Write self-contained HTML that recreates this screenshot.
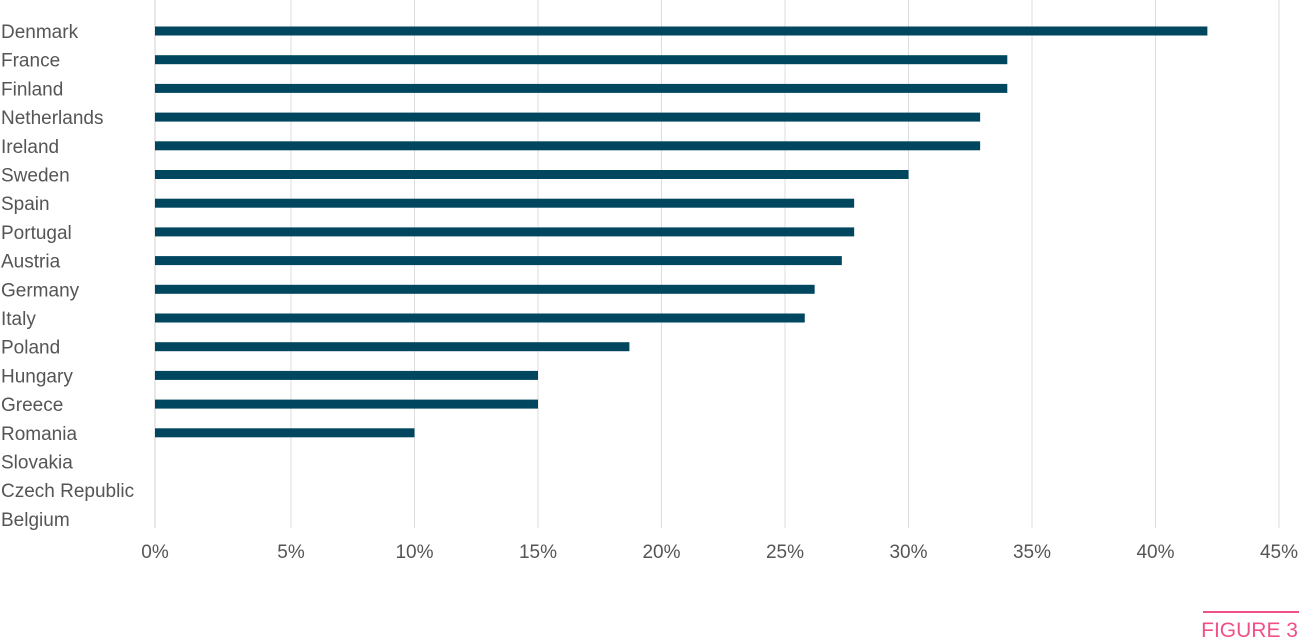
<!DOCTYPE html>
<html><head><meta charset="utf-8"><style>
body{margin:0;background:#fff;width:1300px;height:638px;overflow:hidden;font-family:"Liberation Sans",sans-serif;}
svg text{font-family:"Liberation Sans",sans-serif;fill:#555;}
</style></head><body>
<svg id="chart" width="1300" height="638" xmlns="http://www.w3.org/2000/svg">
<g id="grid"></g><g id="bars"></g><g id="labels"></g><g id="ticks"></g>
<line x1="1203" y1="612" x2="1299" y2="612" stroke="#f0508a" stroke-width="2"/>
<text x="1298" y="637" text-anchor="end" font-size="21" style="fill:#f0508a">FIGURE 3</text>
</svg>
<script>
const categories=["Denmark","France","Finland","Netherlands","Ireland","Sweden","Spain","Portugal","Austria","Germany","Italy","Poland","Hungary","Greece","Romania","Slovakia","Czech Republic","Belgium"];
const values=[42.1,34.0,34.0,32.9,32.9,30.0,27.8,27.8,27.3,26.2,25.8,18.7,15.0,15.0,10.0,0,0,0];
const tickValues=[0,5,10,15,20,25,30,35,40,45];
const tickLabels=["0%","5%","10%","15%","20%","25%","30%","35%","40%","45%"];
const NS="http://www.w3.org/2000/svg";
const x0=155;
function x(v){return v<=0?x0:167.5+v*24.7;}
function y(i){return 31+i*28.7;}
function mk(t,a,p){const e=document.createElementNS(NS,t);for(const k in a)e.setAttribute(k,a[k]);p.appendChild(e);return e;}
const grid=document.getElementById('grid'),bars=document.getElementById('bars'),labels=document.getElementById('labels'),ticks=document.getElementById('ticks');
tickValues.forEach((t,i)=>{
  const gx=x(t);
  const l=mk('line',{x1:gx,x2:gx,y1:0,y2:528,stroke:i==0?'#d0d0d0':'#dedede','stroke-width':1},grid);
  
  
  const tx=mk('text',{x:gx,y:558,'text-anchor':'middle','font-size':19},ticks);
  tx.textContent=tickLabels[i];
  
  
});
categories.forEach((c,i)=>{
  const lb=mk('text',{x:1,y:y(i)+7,'font-size':19},labels);
  lb.textContent=c;
  
  
  if(values[i]>0){
    const r=mk('rect',{x:x0,y:y(i)-4.5,width:x(values[i])-x0,height:9,fill:'#00465e'},bars);
    
    
  }
});
</script>
</body></html>
